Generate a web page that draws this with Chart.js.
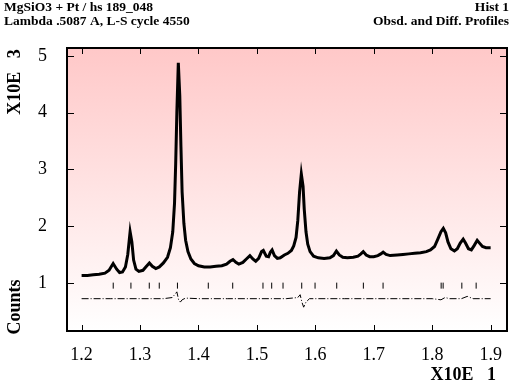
<!DOCTYPE html>
<html><head><meta charset="utf-8">
<script src="https://cdn.jsdelivr.net/npm/chart.js@4/dist/chart.umd.min.js"></script>
<style>html,body{margin:0;padding:0;background:#fff;}#wrap{width:514px;height:385px;position:relative;}</style>
</head><body><div id="wrap"><canvas id="c" width="514" height="385"></canvas></div>
<script>
// Observed profile (x in units of 10, counts in units of 1000)
const obsX = [1.200,1.210,1.220,1.230,1.240,1.247,1.254,1.260,1.265,1.270,1.275,1.279,1.283,1.286,1.289,1.293,1.298,1.305,1.311,1.316,1.321,1.327,1.333,1.340,1.347,1.352,1.356,1.359,1.361,1.363,1.3655,1.368,1.370,1.372,1.375,1.378,1.382,1.387,1.393,1.400,1.410,1.420,1.430,1.440,1.448,1.454,1.459,1.464,1.469,1.476,1.482,1.488,1.493,1.498,1.503,1.508,1.511,1.516,1.520,1.523,1.526,1.530,1.535,1.540,1.547,1.553,1.559,1.563,1.567,1.570,1.573,1.576,1.579,1.581,1.584,1.587,1.591,1.597,1.605,1.615,1.625,1.631,1.636,1.641,1.647,1.655,1.665,1.673,1.678,1.682,1.687,1.693,1.700,1.707,1.712,1.716,1.721,1.728,1.740,1.750,1.760,1.770,1.780,1.790,1.797,1.804,1.810,1.815,1.819,1.823,1.827,1.832,1.838,1.843,1.848,1.853,1.857,1.862,1.867,1.872,1.877,1.881,1.886,1.892,1.900];
const obsY = [1.13,1.13,1.14,1.15,1.17,1.22,1.34,1.24,1.18,1.19,1.28,1.50,1.90,1.72,1.40,1.24,1.20,1.22,1.29,1.35,1.29,1.25,1.28,1.35,1.45,1.62,1.90,2.40,3.10,4.00,4.88,4.30,3.40,2.60,2.05,1.75,1.55,1.42,1.34,1.30,1.28,1.28,1.29,1.30,1.33,1.38,1.41,1.36,1.33,1.36,1.42,1.48,1.42,1.38,1.43,1.55,1.57,1.47,1.46,1.54,1.58,1.48,1.43,1.44,1.49,1.52,1.57,1.65,1.80,2.10,2.60,2.92,2.70,2.30,1.90,1.68,1.55,1.47,1.44,1.43,1.44,1.48,1.56,1.49,1.45,1.44,1.45,1.47,1.51,1.55,1.49,1.46,1.46,1.48,1.51,1.54,1.50,1.48,1.49,1.50,1.51,1.52,1.53,1.55,1.58,1.64,1.78,1.90,1.96,1.88,1.72,1.60,1.56,1.60,1.70,1.77,1.70,1.60,1.58,1.66,1.75,1.70,1.64,1.62,1.62];
// Difference curve (offset)
const diffX = [1.200,1.250,1.280,1.300,1.340,1.355,1.360,1.363,1.366,1.369,1.372,1.378,1.400,1.450,1.500,1.550,1.570,1.574,1.577,1.580,1.584,1.590,1.650,1.700,1.750,1.800,1.815,1.822,1.830,1.850,1.860,1.870,1.900];
const diffY = [0.72,0.72,0.72,0.72,0.72,0.74,0.80,0.84,0.70,0.66,0.70,0.73,0.72,0.72,0.72,0.72,0.74,0.79,0.66,0.57,0.66,0.72,0.72,0.72,0.72,0.72,0.70,0.74,0.72,0.72,0.76,0.72,0.72];
// Reflection positions
const reflX = [1.2541,1.2844,1.3158,1.3329,1.3640,1.4168,1.4586,1.5104,1.5253,1.5447,1.5767,1.5995,1.6366,1.6822,1.7159,1.8153,1.8187,1.8507,1.8752];
const reflLevel = 0.95;
const xTicks = [1.2,1.3,1.4,1.5,1.6,1.7,1.8,1.9];
const yTicks = [1,2,3,4,5];
const titleLeft = ["MgSiO3 + Pt / hs 189_048","Lambda .5087 A, L-S cycle 4550"];
const titleRight = ["Hist 1","Obsd. and Diff. Profiles"];
const yTitleTop = "X10E   3";
const yTitleBottom = "Counts";
const xTitle = "X10E   1";

const SERIF = '"Liberation Serif","DejaVu Serif",serif';

const bgPlugin = {
  id:'bg',
  beforeDraw(chart){
    const {ctx, chartArea:a} = chart;
    const g = ctx.createLinearGradient(0,a.top,0,a.bottom);
    g.addColorStop(0,'rgb(255,200,200)');
    g.addColorStop(1,'rgb(255,255,255)');
    ctx.save(); ctx.fillStyle=g; ctx.fillRect(a.left,a.top,a.right-a.left,a.bottom-a.top); ctx.restore();
  },
  afterDraw(chart){
    const {ctx, chartArea:a, scales} = chart;
    ctx.save();
    ctx.strokeStyle='#000'; ctx.lineWidth=2;
    ctx.strokeRect(a.left,a.top,a.right-a.left,a.bottom-a.top);
    ctx.lineWidth=1;
    xTicks.forEach(v=>{
      const px=Math.round(scales.x.getPixelForValue(v))+0.5;
      ctx.beginPath(); ctx.moveTo(px,a.bottom); ctx.lineTo(px,a.bottom-6);
      ctx.moveTo(px,a.top); ctx.lineTo(px,a.top+6); ctx.stroke();
    });
    yTicks.forEach(v=>{
      const py=Math.round(scales.y.getPixelForValue(v))+0.5;
      ctx.beginPath(); ctx.moveTo(a.left,py); ctx.lineTo(a.left+7,py);
      ctx.moveTo(a.right,py); ctx.lineTo(a.right-7,py); ctx.stroke();
    });
    ctx.fillStyle='#000';
    ctx.font='bold 13.5px '+SERIF;
    ctx.textBaseline='middle';
    ctx.textAlign='left';
    ctx.fillText(titleLeft[0],4,8); ctx.fillText(titleLeft[1],4,22);
    ctx.textAlign='right';
    ctx.fillText(titleRight[0],509,8); ctx.fillText(titleRight[1],509,22);
    ctx.font='bold 18px '+SERIF;
    ctx.fillText(xTitle,496,375);
    ctx.save(); ctx.translate(15,82); ctx.rotate(-Math.PI/2); ctx.textAlign='center'; ctx.fillText(yTitleTop,0,0); ctx.restore();
    ctx.save(); ctx.translate(15,307); ctx.rotate(-Math.PI/2); ctx.textAlign='center'; ctx.fillText(yTitleBottom,0,0); ctx.restore();
    ctx.restore();
  }
};

new Chart(document.getElementById('c'),{
  type:'scatter',
  data:{datasets:[
    {label:'Obsd', data:obsX.map((x,i)=>({x, y:obsY[i]})), showLine:true, borderColor:'#000', borderWidth:3, pointRadius:0, tension:0},
    {label:'Diff', data:diffX.map((x,i)=>({x, y:diffY[i]})), showLine:true, borderColor:'#000', borderWidth:1, borderDash:[7,2,1,2], pointRadius:0},
    {label:'Refl', data:reflX.map(x=>({x, y:reflLevel})), showLine:false, pointStyle:'line', rotation:90, radius:3, borderColor:'#000', borderWidth:1}
  ]},
  options:{
    responsive:false, animation:false, devicePixelRatio:1,
    layout:{padding:{top:48,right:7,left:0,bottom:0}},
    plugins:{legend:{display:false}, tooltip:{enabled:false}},
    scales:{
      x:{type:'linear', min:1.175, max:1.928,
        afterBuildTicks:s=>{s.ticks=xTicks.map(v=>({value:v}));},
        afterFit:s=>{s.height=54;},
        grid:{display:false}, border:{display:false},
        ticks:{callback:v=>v.toFixed(1), color:'#000', font:{family:SERIF,size:18}, padding:5, maxRotation:0}
      },
      y:{type:'linear', min:0.15, max:5.14,
        afterBuildTicks:s=>{s.ticks=yTicks.map(v=>({value:v}));},
        afterFit:s=>{s.width=67;},
        grid:{display:false}, border:{display:false},
        ticks:{callback:v=>String(v), color:'#000', font:{family:SERIF,size:18}, padding:12}
      }
    }
  },
  plugins:[bgPlugin]
});
</script></body></html>
